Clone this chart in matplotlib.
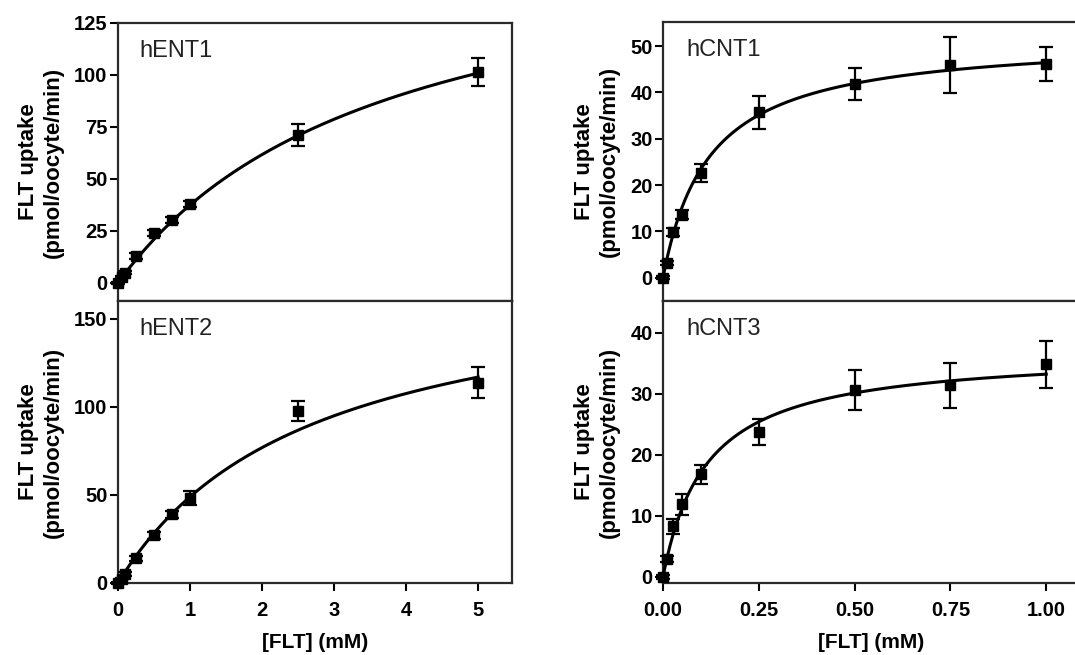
import numpy as np
import matplotlib
matplotlib.use("Agg")
import matplotlib.pyplot as plt

plt.rcParams['font.family'] = ['Liberation Sans', 'DejaVu Sans']

# ---- data ----
ent1_x = [0, 0.05, 0.1, 0.25, 0.5, 0.75, 1.0, 2.5, 5.0]
ent1_y = [0, 3, 5, 13, 24, 30.3, 37.8, 71.2, 101.4]
ent1_e = [0.5, 0.5, 0.8, 1.5, 1.5, 1.5, 1.5, 5.4, 6.8]
ent1_fit = (175.0, 3.67)   # Vmax, Km of the fitted curve

ent2_x = [0, 0.05, 0.1, 0.25, 0.5, 0.75, 1.0, 2.5, 5.0]
ent2_y = [0, 2.5, 5, 14, 27, 39, 48, 97.7, 113.6]
ent2_e = [0.5, 0.5, 1.0, 1.5, 2.0, 2.0, 4.0, 5.7, 8.8]
ent2_fit = (179.0, 2.66)

cnt1_x = [0, 0.01, 0.025, 0.05, 0.1, 0.25, 0.5, 0.75, 1.0]
cnt1_y = [0, 3.2, 9.9, 13.6, 22.6, 35.7, 41.8, 45.9, 46.1]
cnt1_e = [0.3, 0.5, 0.8, 1.0, 2.0, 3.5, 3.5, 6.0, 3.6]
cnt1_fit = (52.0, 0.12)

cnt3_x = [0, 0.01, 0.025, 0.05, 0.1, 0.25, 0.5, 0.75, 1.0]
cnt3_y = [0, 3.0, 8.3, 11.9, 16.8, 23.7, 30.6, 31.4, 34.8]
cnt3_e = [0.3, 0.5, 1.2, 1.7, 1.6, 2.1, 3.3, 3.7, 3.9]
cnt3_fit = (37.0, 0.114)

names = ["hENT1", "hENT2", "hCNT1", "hCNT3"]
cnt_xticklabels = ["0.00", "0.25", "0.50", "0.75", "1.00"]

W, H = 1075, 655
fig = plt.figure(figsize=(W / 100, H / 100), dpi=100)

def rect(x0, y0, x1, y1):
    return [x0 / W, 1 - y1 / H, (x1 - x0) / W, (y1 - y0) / H]

ax_tl = fig.add_axes(rect(118, 23, 512, 301))
ax_bl = fig.add_axes(rect(118, 301, 512, 583))
ax_tr = fig.add_axes(rect(663, 22, 1080, 301))
ax_br = fig.add_axes(rect(663, 301, 1080, 583))

panels = [
    (ax_tl, ent1_x, ent1_y, ent1_e, ent1_fit, names[0], (0, 5.47), (-8.7, 125), [0, 25, 50, 75, 100, 125], None, -0.195),
    (ax_bl, ent2_x, ent2_y, ent2_e, ent2_fit, names[1], (0, 5.47), (0, 160), [0, 50, 100, 150], [0, 1, 2, 3, 4, 5], -0.195),
    (ax_tr, cnt1_x, cnt1_y, cnt1_e, cnt1_fit, names[2], (0, 1.088), (-5, 55.2), [0, 10, 20, 30, 40, 50], None, -0.158),
    (ax_br, cnt3_x, cnt3_y, cnt3_e, cnt3_fit, names[3], (0, 1.088), (-1, 45.2), [0, 10, 20, 30, 40], [0.0, 0.25, 0.5, 0.75, 1.0], -0.158),
]

for ax, x, y, e, fit, name, xl, yl, yt, xt, lx in panels:
    vmax, km = fit
    xx = np.linspace(0, max(x), 400)
    ax.plot(xx, vmax * xx / (km + xx), color='black', lw=2.2, zorder=3, clip_on=False)
    ax.errorbar(x, y, yerr=e, fmt='s', color='black', ms=6.5, capsize=5,
                elinewidth=1.6, capthick=1.6, zorder=4, clip_on=False)
    ax.set_xlim(*xl)
    ax.set_ylim(*yl)
    ax.set_yticks(yt)
    for s in ax.spines.values():
        s.set_linewidth(1.6)
        s.set_color('#2a2a2a')
    ax.tick_params(axis='y', direction='out', length=6, width=1.5, labelsize=14.5, pad=1.5)
    if xt is None:
        ax.set_xticks([])
    else:
        ax.set_xticks(xt)
        if xt[-1] == 1.0:
            ax.set_xticklabels(cnt_xticklabels)
        ax.tick_params(axis='x', direction='out', length=6, width=1.5, labelsize=14.5, pad=7)
        ax.set_xlabel("[FLT] (mM)", fontsize=15, fontweight='bold', labelpad=9)
    for lab in ax.get_xticklabels() + ax.get_yticklabels():
        lab.set_fontweight('bold')
    ax.set_ylabel("FLT uptake\n(pmol/oocyte/min)", fontsize=16, fontweight='bold', linespacing=1.25)
    ax.yaxis.set_label_coords(lx, 0.5)
    ax.yaxis.label.set_va('center')
    ax.text(0.055, 0.9, name, transform=ax.transAxes, fontsize=17, va='center', ha='left', color='#222222')

fig.savefig("out.png", dpi=100)
